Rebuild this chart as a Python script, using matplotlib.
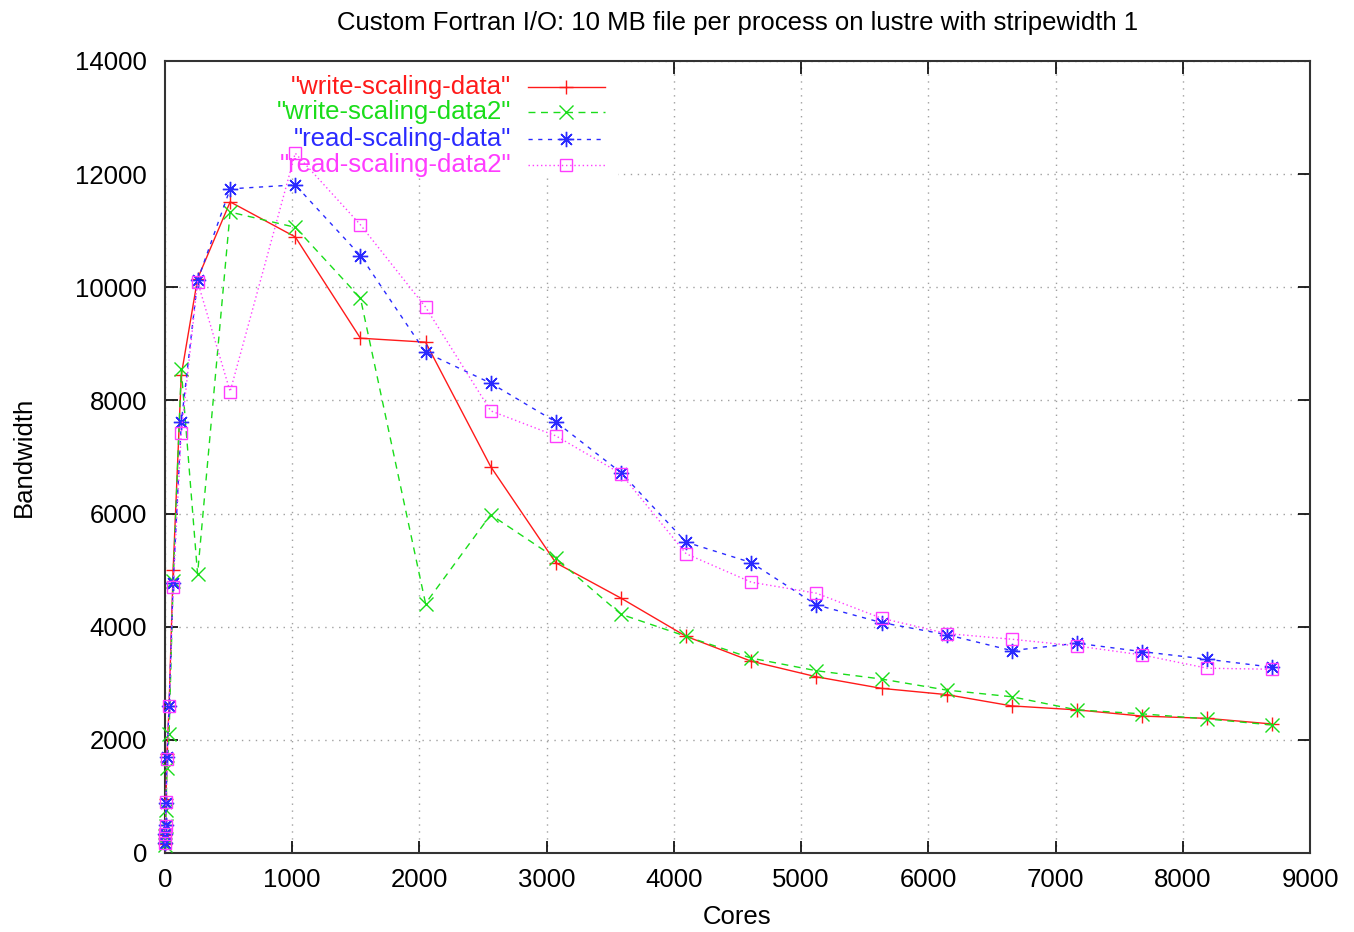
import matplotlib
matplotlib.use("Agg")
import matplotlib.pyplot as plt
from matplotlib.patches import Rectangle
from matplotlib.lines import Line2D

plt.rcParams['font.family'] = ['Liberation Sans', 'DejaVu Sans']

cores = [1, 2, 4, 8, 16, 32, 64, 128, 256, 512, 1024, 1536, 2048, 2560, 3072,
         3584, 4096, 4608, 5120, 5632, 6144, 6656, 7168, 7680, 8192, 8704]

write1 = [160, 320, 500, 950, 1750, 2600, 5000, 8450, 10150, 11510, 10890, 9100,
          9030, 6830, 5130, 4505, 3830, 3390, 3115, 2910, 2800, 2600, 2530, 2420,
          2380, 2280]
write2 = [150, 300, 480, 760, 1500, 2100, 4800, 8550, 4930, 11330, 11060, 9810,
          4410, 5980, 5210, 4220, 3830, 3445, 3222, 3075, 2880, 2762, 2530, 2460,
          2370, 2263]
read1 = [170, 340, 500, 880, 1700, 2600, 4770, 7610, 10120, 11740, 11810, 10560,
         8850, 8306, 7620, 6725, 5495, 5134, 4386, 4073, 3860, 3578, 3708, 3560,
         3425, 3284]
read2 = [170, 330, 480, 900, 1660, 2590, 4700, 7430, 10100, 8157, 12370, 11105,
         9650, 7816, 7374, 6705, 5290, 4787, 4592, 4150, 3880, 3779, 3660, 3501,
         3266, 3248]

labels = ['"write-scaling-data"', '"write-scaling-data2"',
          '"read-scaling-data"', '"read-scaling-data2"']
series = [write1, write2, read1, read2]
colors = ['#ff1a1a', '#1add1a', '#2a2aff', '#ff3cff']
styles = ['-', (0, (5, 4)), (0, (3, 4)), (0, (1, 2))]
markers = ['+', 'x', (8, 2, 0), 's']
msizes = [10, 10, 11, 9]

FS = 18.5

fig = plt.figure(figsize=(13.54, 9.32), dpi=100)
ax = fig.add_axes([165/1354, 1 - 853/932, (1310 - 165)/1354, (853 - 61)/932])

ax.set_xlim(0, 9000)
ax.set_ylim(0, 14000)
ax.set_xticks(range(0, 9001, 1000))
ax.set_yticks(range(0, 14001, 2000))
ax.set_axisbelow(True)
ax.grid(True, color='#a0a0a0', linestyle=(0, (1, 4)), linewidth=1.0)
ax.tick_params(direction='in', length=9, width=1.2, top=True, right=True,
               labelsize=FS, colors='black')
ax.tick_params(axis='x', pad=11)
ax.tick_params(axis='y', pad=13)
for sp in ax.spines.values():
    sp.set_linewidth(1.5)
    sp.set_color('#333333')

# legend background (gnuplot key area hides grid)
ax.add_patch(Rectangle((0, (853 - 177)/792), (618 - 165)/1145, 1 - (853 - 177)/792,
                       transform=ax.transAxes, facecolor='white',
                       edgecolor='none', zorder=1))

for ys, c, ls, m, ms in zip(series, colors, styles, markers, msizes):
    ax.plot(cores, ys, color=c, linestyle=ls, linewidth=1.0, marker=m,
            markersize=ms, markerfacecolor='none', markeredgecolor=c,
            markeredgewidth=1.0, zorder=3, clip_on=False)

# gnuplot-style key
rows_y = [(853 - 87)/792, (853 - 112)/792, (853 - 139)/792, (853 - 165)/792]
tx = (511 - 165)/1145
lx0, lx1, mx = (528 - 165)/1145, (605 - 165)/1145, (566 - 165)/1145
for lab, c, ls, m, ms, yy in zip(labels, colors, styles, markers, msizes, rows_y):
    ax.text(tx, yy, lab, transform=ax.transAxes, ha='right', va='center',
            color=c, fontsize=FS, zorder=2)
    ax.add_line(Line2D([lx0, lx1], [yy, yy], transform=ax.transAxes, color=c,
                       linestyle=ls, linewidth=1.0, zorder=2))
    ax.add_line(Line2D([mx], [yy], transform=ax.transAxes, color=c,
                       marker=m, markersize=ms, markerfacecolor='none',
                       markeredgecolor=c, linestyle='none', zorder=2))

ax.set_title('Custom Fortran I/O: 10 MB file per process on lustre with stripewidth 1',
             fontsize=FS, pad=22)
ax.set_xlabel('Cores', fontsize=FS, labelpad=9)
ax.set_ylabel('Bandwidth', fontsize=FS, labelpad=28)

fig.savefig('out.png', dpi=100)
